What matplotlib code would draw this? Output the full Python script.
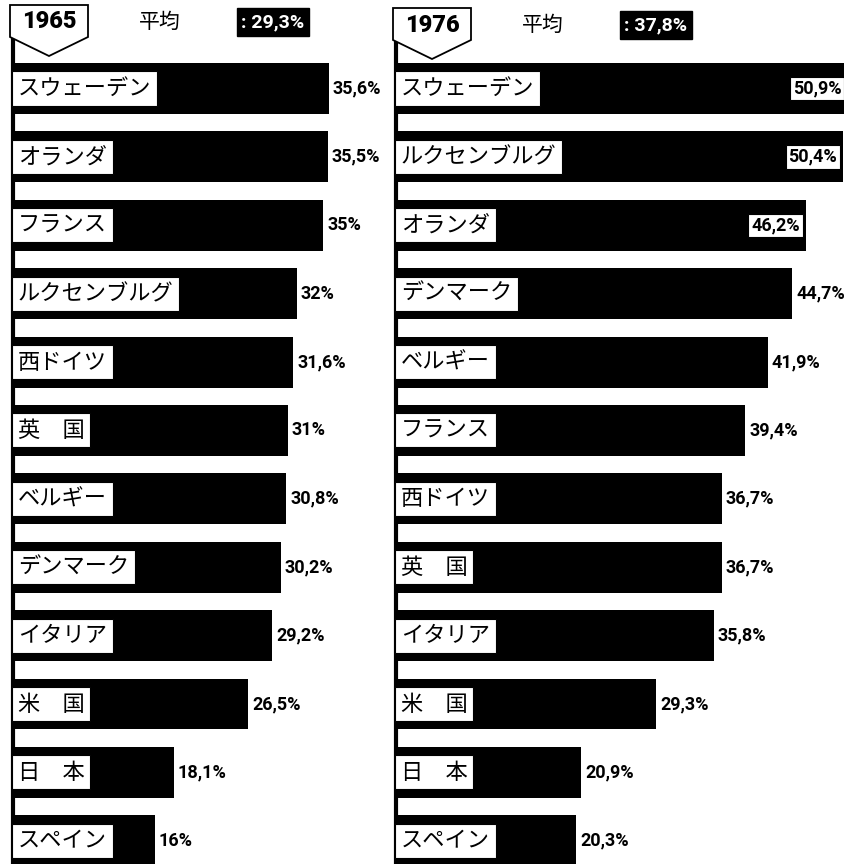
import matplotlib
matplotlib.use("Agg")
import matplotlib.pyplot as plt
from matplotlib.patches import Polygon

# data (share in %)
countries_1965 = ["スウェーデン", "オランダ", "フランス", "ルクセンブルグ", "西ドイツ", "英　国",
                  "ベルギー", "デンマーク", "イタリア", "米　国", "日　本", "スペイン"]
share_1965 = [35.6, 35.5, 35.0, 32.0, 31.6, 31.0, 30.8, 30.2, 29.2, 26.5, 18.1, 16.0]
avg_1965 = 29.3

countries_1976 = ["スウェーデン", "ルクセンブルグ", "オランダ", "デンマーク", "ベルギー", "フランス",
                  "西ドイツ", "英　国", "イタリア", "米　国", "日　本", "スペイン"]
share_1976 = [50.9, 50.4, 46.2, 44.7, 41.9, 39.4, 36.7, 36.7, 35.8, 29.3, 20.9, 20.3]
avg_1976 = 37.8

W, H = 845, 864
SCALE = 8.87  # pixels per percent
JP = ["Noto Sans CJK JP", "DejaVu Sans"]
NUM = ["Roboto", "DejaVu Sans"]

fig = plt.figure(figsize=(W / 100, H / 100), dpi=100)
fig.patch.set_facecolor("white")


def fx(px):
    return px / W


def fy(py):
    return 1 - py / H


def fmt(v):
    return f"{v:g}%".replace(".", ",")


def panel(x0, width, names, vals, year, avg, n_inside, hy):
    top, bottom = 38, 875
    ax = fig.add_axes([fx(x0), fy(bottom), width / W, (bottom - top) / H])
    y = list(range(len(names)))
    ax.barh(y, vals, height=0.745, color="black")
    ax.set_xlim(0, width / SCALE)
    ax.set_ylim(len(names) - 0.5, -0.738)
    for s in ["top", "right", "bottom"]:
        ax.spines[s].set_visible(False)
    ax.spines["left"].set_linewidth(3)
    ax.set_xticks([])
    ax.set_yticks([])
    ax.patch.set_alpha(0)

    for i, (n, v) in enumerate(zip(names, vals)):
        ax.annotate(n, (0, i), xytext=(5, 0), textcoords="offset pixels",
                    ha="left", va="center", fontsize=16, family=JP,
                    bbox=dict(boxstyle="square,pad=0.25", fc="white", ec="black", lw=0.8))
        if i < n_inside:
            ax.annotate(fmt(v), (v, i), xytext=(-6, 0), textcoords="offset pixels",
                        ha="right", va="center", fontsize=13, fontweight="bold", family=NUM,
                        bbox=dict(boxstyle="square,pad=0.15", fc="white", ec="black", lw=0.8),
                        annotation_clip=False)
        else:
            ax.annotate(fmt(v), (v, i), xytext=(4, 0), textcoords="offset pixels",
                        ha="left", va="center", fontsize=13, fontweight="bold", family=NUM)

    # year tag (pentagon)
    l, r = x0 - 3, x0 + 75
    pts = [(l, hy - 17), (r, hy - 17), (r, hy + 15), ((l + r) / 2, hy + 34), (l, hy + 15)]
    fig.add_artist(Polygon([(fx(a), fy(b)) for a, b in pts], closed=True,
                           transform=fig.transFigure, fc="white", ec="black", lw=1.3, zorder=2))
    fig.text(fx((l + r) / 2), fy(hy), str(year), ha="center", va="center",
             fontsize=17, fontweight="black", family=NUM)
    fig.text(fx(x0 + 147), fy(hy), "平均", ha="center", va="center", fontsize=15, family=JP)
    fig.text(fx(x0 + 260), fy(hy), ": " + fmt(avg), ha="center", va="center",
             fontsize=14, fontweight="bold", family=NUM, color="white",
             bbox=dict(boxstyle="square,pad=0.25", fc="black", ec="black"))


panel(13, 400, countries_1965, share_1965, 1965, avg_1965, 0, 22)
panel(396, 449, countries_1976, share_1976, 1976, avg_1976, 3, 25)

fig.savefig("out.png", dpi=100)
